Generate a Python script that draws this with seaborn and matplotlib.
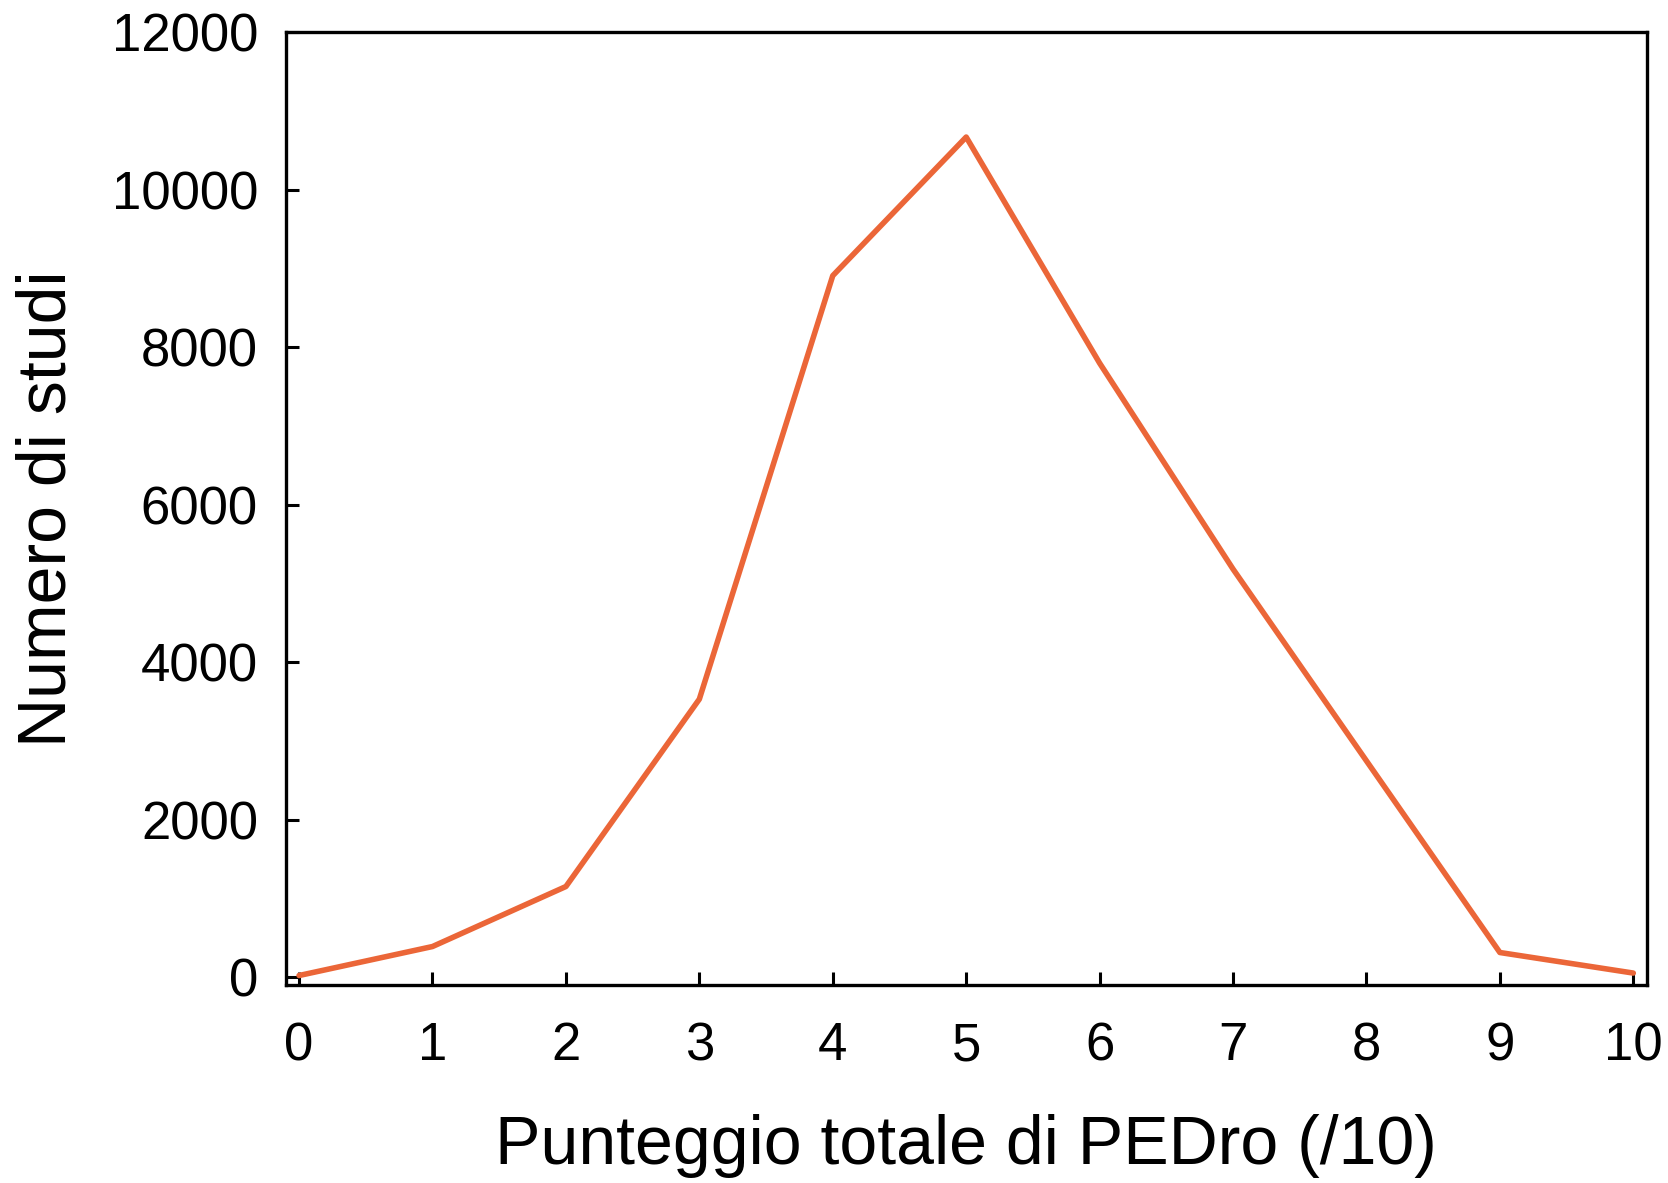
import matplotlib
matplotlib.use("Agg")
import matplotlib.pyplot as plt
import seaborn as sns
import pandas as pd

# punteggio PEDro vs numero di studi
punteggio = [0, 1, 2, 3, 4, 5, 6, 7, 8, 9, 10]
num_studi = [25, 393, 1155, 3534, 8910, 10670, 7800, 5185, 2750, 317, 56]

df = pd.DataFrame({"punteggio": punteggio, "studi": num_studi})

sns.set_style("white")
plt.rcParams['font.family'] = ['Liberation Sans', 'DejaVu Sans']
plt.rcParams['text.color'] = 'black'
plt.rcParams['axes.labelcolor'] = 'black'

fig = plt.figure(figsize=(16.68, 11.83), dpi=100)
ax = fig.add_axes([0.1713, 0.1674, 0.9872 - 0.1713, 0.9727 - 0.1674])

sns.lineplot(data=df, x="punteggio", y="studi", ax=ax, color="#EB6638", linewidth=4)

ax.set_xlim(-0.1, 10.1)
ax.set_ylim(-95, 12000)
ax.set_xticks(range(0, 11))
ax.set_yticks(range(0, 12001, 2000))

for s in ax.spines.values():
    s.set_linewidth(2.4)
    s.set_color("black")
ax.tick_params(direction="in", length=9.5, width=2.2, labelsize=38, colors="black",
               bottom=True, left=True)
ax.tick_params(axis="y", pad=20)
ax.tick_params(axis="x", pad=26)

ax.set_xlabel("Punteggio totale di PEDro (/10)", fontsize=49, labelpad=31)
ax.set_ylabel("Numero di studi", fontsize=49, labelpad=23)

fig.savefig("out.png", dpi=100)
